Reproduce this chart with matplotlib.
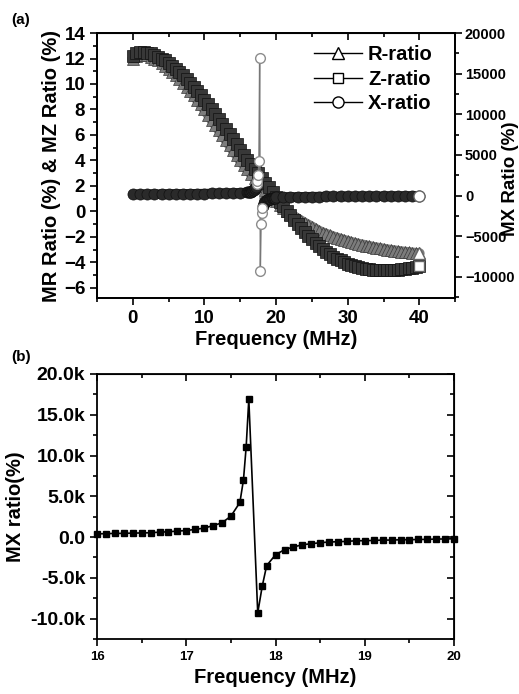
import matplotlib

matplotlib.use("Agg")
import matplotlib.pyplot as plt
import numpy as np
from matplotlib.lines import Line2D
from matplotlib.ticker import FuncFormatter, MultipleLocator

plt.rcParams["font.family"] = ["Liberation Sans", "DejaVu Sans"]
plt.rcParams["font.weight"] = "bold"
plt.rcParams["axes.labelweight"] = "bold"

# ---- panel (a): R and Z ratios (left axis, %), 0..40 MHz every 0.5 MHz
FREQ_RZ = np.arange(0.0, 40.01, 0.5)
R_RATIO = [
    12.0, 12.2, 12.3, 12.3, 12.25, 12.15, 12.0, 11.85, 11.65, 11.45,
    11.2, 10.95, 10.7, 10.4, 10.1, 9.8, 9.45, 9.1, 8.75, 8.4,
    8.0, 7.6, 7.2, 6.8, 6.4, 6.0, 5.6, 5.2, 4.8, 4.4,
    4.0, 3.65, 3.3, 2.95, 2.6, 2.3, 2.0, 1.7, 1.4, 1.1,
    0.8, 0.5, 0.25, 0.0, -0.2, -0.4, -0.58, -0.75, -0.92, -1.07,
    -1.22, -1.39, -1.55, -1.67, -1.78, -1.89, -1.99, -2.08, -2.17, -2.26,
    -2.34, -2.42, -2.49, -2.56, -2.62, -2.68, -2.74, -2.8, -2.85, -2.9,
    -2.95, -3.0, -3.04, -3.08, -3.12, -3.16, -3.19, -3.22, -3.25, -3.28,
    -3.3,
]
Z_RATIO = [
    12.2, 12.4, 12.5, 12.5, 12.45, 12.4, 12.3, 12.15, 12.0, 11.85,
    11.65, 11.45, 11.2, 10.95, 10.7, 10.4, 10.1, 9.8, 9.45, 9.1,
    8.75, 8.4, 8.0, 7.65, 7.25, 6.85, 6.45, 6.05, 5.65, 5.25,
    4.85, 4.45, 4.05, 3.7, 3.35, 3.0, 2.6, 2.25, 1.9, 1.5,
    1.1, 0.75, 0.4, 0.05, -0.3, -0.65, -1.0, -1.3, -1.6, -1.9,
    -2.2, -2.45, -2.7, -2.95, -3.15, -3.35, -3.55, -3.7, -3.85, -4.0,
    -4.1, -4.2, -4.3, -4.38, -4.45, -4.5, -4.55, -4.58, -4.6, -4.62,
    -4.63, -4.63, -4.62, -4.6, -4.58, -4.55, -4.52, -4.48, -4.43, -4.38,
    -4.3,
]

# X ratio away from the resonance (right axis, %)
X_FREQ_LOW = np.arange(0.0, 15.51, 1.0)
X_RATIO_LOW = [150, 160, 170, 180, 190, 200, 205, 215, 225, 235, 250, 265, 280, 300, 320, 350]
X_FREQ_HIGH = np.arange(21.0, 40.01, 1.0)
X_RATIO_HIGH = [-180, -160, -150, -140, -130, -120, -110, -100, -95, -90,
                -85, -80, -75, -70, -65, -60, -55, -50, -45, -40]

# ---- panel (b): MX ratio around the resonance, 16..20 MHz
B_FREQ = np.array([
    16.0, 16.1, 16.2, 16.3, 16.4, 16.5, 16.6, 16.7, 16.8, 16.9,
    17.0, 17.1, 17.2, 17.3, 17.4, 17.5, 17.6, 17.64, 17.67, 17.7,
    17.8, 17.85, 17.9, 18.0, 18.1, 18.2, 18.3, 18.4, 18.5, 18.6,
    18.7, 18.8, 18.9, 19.0, 19.1, 19.2, 19.3, 19.4, 19.5, 19.6,
    19.7, 19.8, 19.9, 20.0,
])
B_MX = np.array([
    400, 410, 450, 450, 490, 500, 530, 600, 650, 730,
    800, 940, 1100, 1400, 1750, 2570, 4240, 7000, 11000, 16900,
    -9300, -6050, -3500, -2160, -1550, -1220, -940, -820, -690, -610,
    -570, -530, -450, -450, -410, -370, -370, -330, -330, -290,
    -290, -240, -240, -200,
])

GRAY_R = "#7c7c7c"
DARK_Z = "#383838"
DARK_X = "#2a2a2a"


def k_fmt(v, _pos):
    if abs(v) < 1e-9:
        return "0.0"
    return f"{v / 1000:.1f}k"


def style_spines(ax):
    for s in ax.spines.values():
        s.set_linewidth(1.3)


def band(ax, x, y, marker, ms, face, edge, z):
    # thick underlay so the dense markers read as one continuous band
    ax.plot(x, y, "-", color=face, lw=ms * 0.85, solid_capstyle="round", zorder=z)
    ax.plot(x, y, marker, ms=ms, mfc=face, mec=edge, mew=0.5, zorder=z)


fig = plt.figure(figsize=(5.19, 6.94), dpi=100)

# ---------------- panel (a)
ax = fig.add_axes([0.187, 0.5706, 0.690, 0.3818])
axr = ax.twinx()

band(ax, FREQ_RZ, R_RATIO, "^", 9, GRAY_R, "#3a3a3a", 2)
band(ax, FREQ_RZ, Z_RATIO, "s", 8, DARK_Z, "#111111", 3)
ax.plot(FREQ_RZ[-1], R_RATIO[-1], "^", ms=8, mfc="white", mec="#666666", mew=1, zorder=4)
ax.plot(FREQ_RZ[-1], Z_RATIO[-1], "s", ms=7, mfc="white", mec="#666666", mew=1, zorder=4)

on_grid = np.isclose(B_FREQ * 10, np.round(B_FREQ * 10))
x_freq = np.concatenate([X_FREQ_LOW, B_FREQ[on_grid], X_FREQ_HIGH])
x_vals = np.concatenate([X_RATIO_LOW, B_MX[on_grid], X_RATIO_HIGH])
axr.plot(x_freq, x_vals, "-", color="#777777", lw=1, zorder=2)
low = x_freq < 17.25
high = x_freq > 18.15
mid = ~(low | high)
band(axr, x_freq[low], x_vals[low], "o", 8, DARK_X, "#111111", 3)
band(axr, x_freq[high], x_vals[high], "o", 8, DARK_X, "#111111", 3)
axr.plot(x_freq[mid], x_vals[mid], "o", ms=7, mfc="white", mec="#8c8c8c", mew=1, zorder=4)
axr.plot(x_freq[-1], x_vals[-1], "o", ms=8, mfc="white", mec="#666666", mew=1, zorder=4)

ax.set_xlim(-5, 45)
ax.set_ylim(-6.8, 14)
axr.set_ylim(-12600, 20000)
ax.xaxis.set_major_locator(MultipleLocator(10))
ax.xaxis.set_minor_locator(MultipleLocator(5))
ax.yaxis.set_major_locator(MultipleLocator(2))
ax.yaxis.set_minor_locator(MultipleLocator(1))
axr.yaxis.set_major_locator(MultipleLocator(5000))
axr.yaxis.set_minor_locator(MultipleLocator(2500))

ax.tick_params(which="both", direction="out", width=1.2, labelsize=13.5)
ax.tick_params(which="major", length=5)
ax.tick_params(which="minor", length=3)
axr.tick_params(which="both", direction="out", width=1.2, labelsize=10.5, pad=2)
axr.tick_params(which="major", length=5)
axr.tick_params(which="minor", length=3)
top = ax.secondary_xaxis("top")
top.xaxis.set_major_locator(MultipleLocator(10))
top.xaxis.set_minor_locator(MultipleLocator(5))
top.tick_params(which="both", direction="in", width=1.2, labeltop=False)
top.tick_params(which="major", length=5)
top.tick_params(which="minor", length=3)

ax.set_xlabel("Frequency (MHz)", fontsize=14.5, labelpad=2)
ax.set_ylabel("MR Ratio (%) & MZ Ratio (%)", fontsize=14.5, labelpad=2)
axr.set_ylabel("MX Ratio (%)", fontsize=13.5)
axr.yaxis.set_label_coords(1.132, 0.45)
style_spines(ax)
style_spines(axr)

handles = [
    Line2D([], [], color="black", lw=1, marker="^", ms=8, mfc="white", mec="black"),
    Line2D([], [], color="black", lw=1, marker="s", ms=7, mfc="white", mec="black"),
    Line2D([], [], color="black", lw=1, marker="o", ms=8, mfc="white", mec="black"),
]
axr.legend(handles, ["R-ratio", "Z-ratio", "X-ratio"], loc="upper left",
           bbox_to_anchor=(0.605, 0.955), frameon=False, fontsize=14.5,
           handlelength=2.4, handletextpad=0.3, labelspacing=0.28,
           borderpad=0, borderaxespad=0)

fig.text(0.022, 0.965, "(a)", fontsize=11, fontweight="bold")

# ---------------- panel (b)
bx = fig.add_axes([0.187, 0.0793, 0.688, 0.3818])
bx.plot(B_FREQ, B_MX, "-", color="black", lw=1.2, marker="s", ms=5,
        mfc="black", mec="black", clip_on=False)
bx.set_xlim(16, 20)
bx.set_ylim(-12500, 20000)
bx.xaxis.set_major_locator(MultipleLocator(1))
bx.xaxis.set_minor_locator(MultipleLocator(0.5))
bx.yaxis.set_major_locator(MultipleLocator(5000))
bx.yaxis.set_minor_locator(MultipleLocator(2500))
bx.yaxis.set_major_formatter(FuncFormatter(k_fmt))
bx.tick_params(axis="x", which="both", direction="out", width=1.2, labelsize=9.5)
bx.tick_params(axis="y", which="both", direction="out", width=1.2, labelsize=14)
bx.tick_params(which="major", length=5)
bx.tick_params(which="minor", length=3)
btop = bx.secondary_xaxis("top")
btop.xaxis.set_major_locator(MultipleLocator(1))
btop.xaxis.set_minor_locator(MultipleLocator(0.5))
btop.tick_params(which="both", direction="in", width=1.2, labeltop=False)
bright = bx.secondary_yaxis("right")
bright.yaxis.set_major_locator(MultipleLocator(5000))
bright.yaxis.set_minor_locator(MultipleLocator(2500))
bright.tick_params(which="both", direction="in", width=1.2, labelright=False)
for sec in (btop, bright):
    sec.tick_params(which="major", length=5)
    sec.tick_params(which="minor", length=3)
bx.set_xlabel("Frequency (MHz)", fontsize=14.5, labelpad=4)
bx.set_ylabel("MX ratio(%)", fontsize=14.5, labelpad=4)
style_spines(bx)

fig.text(0.022, 0.48, "(b)", fontsize=11, fontweight="bold")

fig.savefig("out.png", dpi=100)
